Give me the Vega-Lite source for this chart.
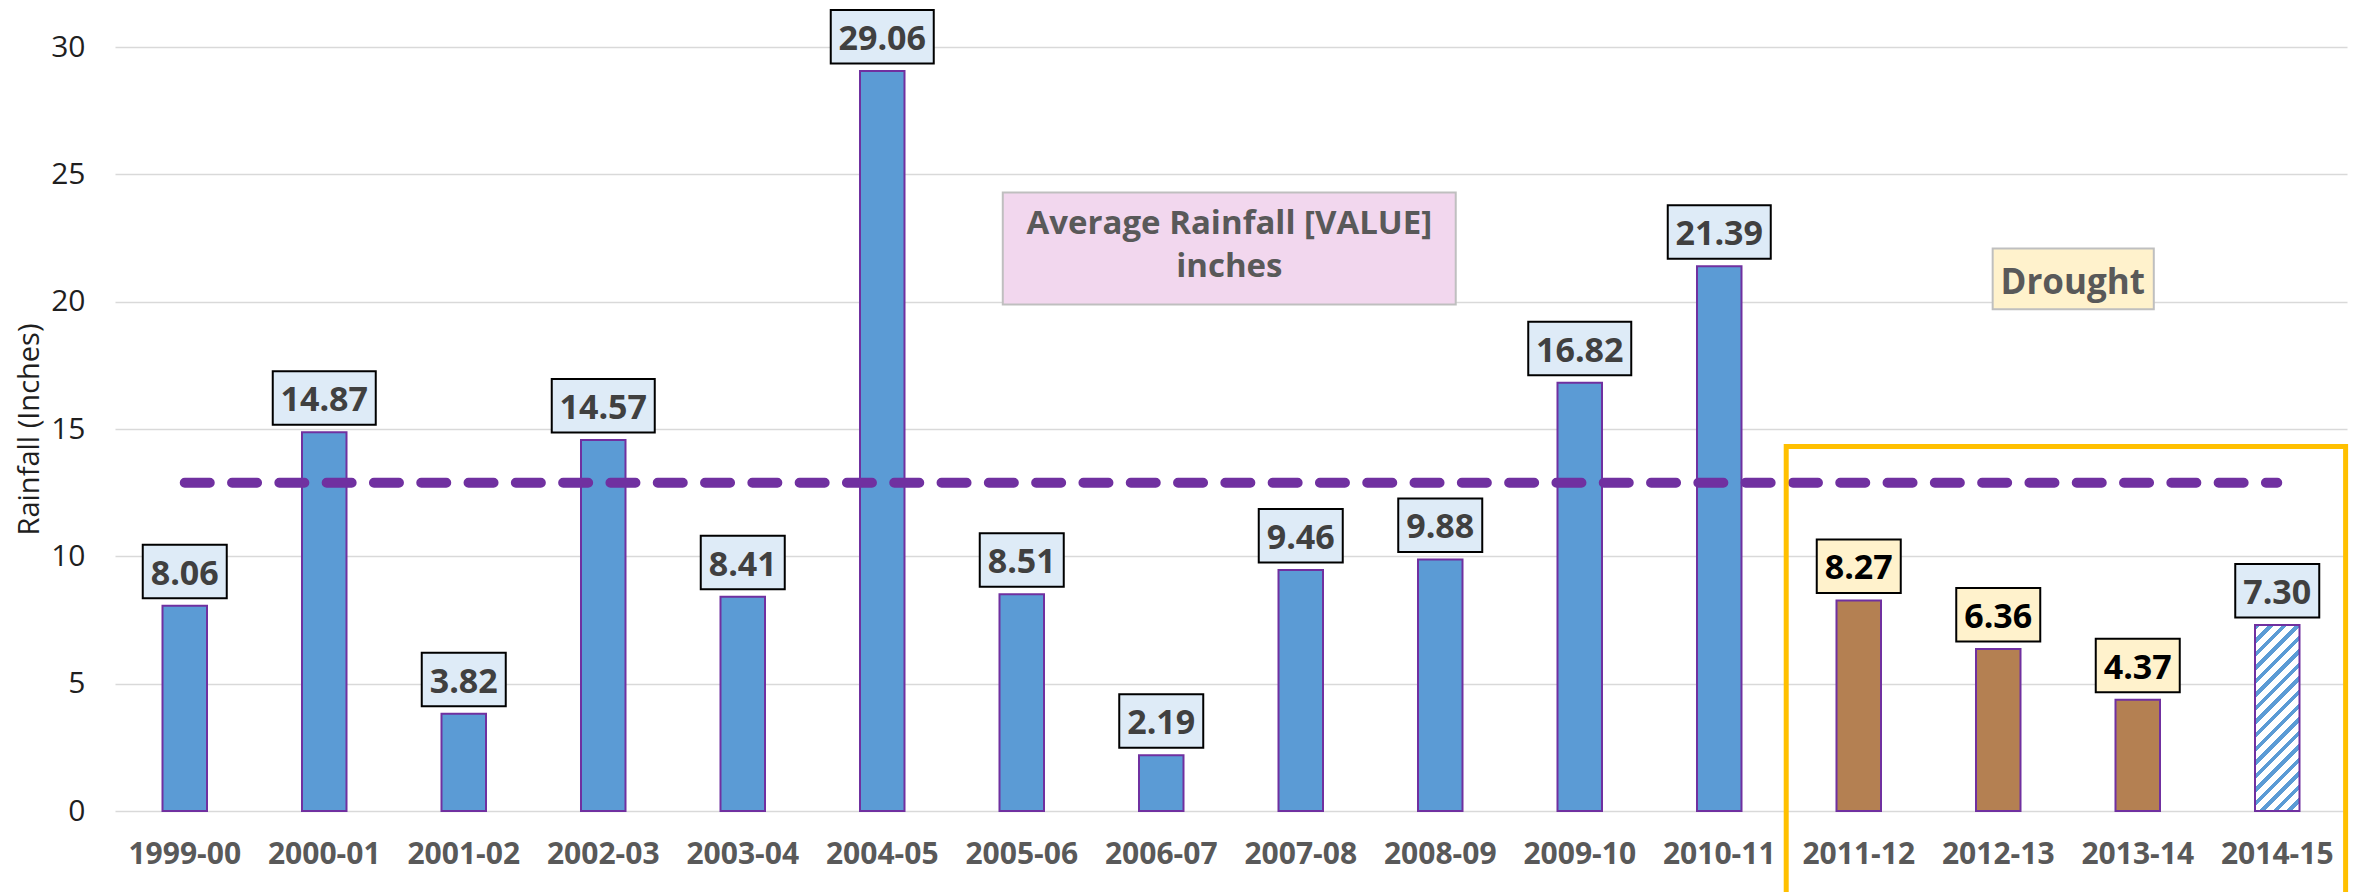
{
  "$schema": "https://vega.github.io/schema/vega-lite/v6.json",
  "width": 2232,
  "height": 764,
  "autosize": {"type": "none"},
  "padding": {"left": 115, "top": 47, "right": 14, "bottom": 81},
  "background": "white",
  "config": {"view": {"stroke": null}, "font": "Open Sans"},
  "datasets": {
    "rain": [
      {"season": "1999-00", "rain": 8.06, "avg": 12.89, "period": "normal"},
      {"season": "2000-01", "rain": 14.87, "avg": 12.89, "period": "normal"},
      {"season": "2001-02", "rain": 3.82, "avg": 12.89, "period": "normal"},
      {"season": "2002-03", "rain": 14.57, "avg": 12.89, "period": "normal"},
      {"season": "2003-04", "rain": 8.41, "avg": 12.89, "period": "normal"},
      {"season": "2004-05", "rain": 29.06, "avg": 12.89, "period": "normal"},
      {"season": "2005-06", "rain": 8.51, "avg": 12.89, "period": "normal"},
      {"season": "2006-07", "rain": 2.19, "avg": 12.89, "period": "normal"},
      {"season": "2007-08", "rain": 9.46, "avg": 12.89, "period": "normal"},
      {"season": "2008-09", "rain": 9.88, "avg": 12.89, "period": "normal"},
      {"season": "2009-10", "rain": 16.82, "avg": 12.89, "period": "normal"},
      {"season": "2010-11", "rain": 21.39, "avg": 12.89, "period": "normal"},
      {"season": "2011-12", "rain": 8.27, "avg": 12.89, "period": "drought"},
      {"season": "2012-13", "rain": 6.36, "avg": 12.89, "period": "drought"},
      {"season": "2013-14", "rain": 4.37, "avg": 12.89, "period": "drought"},
      {"season": "2014-15", "rain": 7.30, "avg": 12.89, "period": "partial"}
    ],
    "notes": [
      {"kind": "avgbox", "x1": 6.364, "x2": 9.611, "y1": 24.29, "y2": 19.89, "tx": 7.988, "ty": 22.65, "label": "Average Rainfall [VALUE]\ninches"},
      {"kind": "droughtbox", "x1": 13.46, "x2": 14.615, "y1": 22.09, "y2": 19.7, "tx": 14.034, "ty": 20.31, "label": "Drought"},
      {"kind": "frame", "x1": 11.98, "x2": 15.99, "y1": 14.31, "y2": -5, "tx": 14, "ty": 0, "label": ""}
    ]
  },
  "resolve": {"scale": {"x": "independent", "y": "independent"}},
  "layer": [
    {
      "data": {"name": "rain"},
      "encoding": {
        "x": {
          "field": "season", "type": "nominal", "sort": null,
          "scale": {"paddingInner": 0.681, "paddingOuter": 0.3405},
          "axis": {
            "title": null, "domain": false, "ticks": false, "grid": false,
            "labelFont": "Open Sans", "labelFontWeight": "bold", "labelFontSize": 30,
            "labelColor": "#595959", "labelBaseline": "alphabetic", "labelPadding": 52,
            "labelAngle": 0
          }
        },
        "y": {
          "field": "rain", "type": "quantitative",
          "scale": {"domain": [0, 30], "nice": false, "zero": true},
          "axis": {
            "title": "Rainfall (Inches)", "values": [0, 5, 10, 15, 20, 25, 30],
            "domain": false, "ticks": false, "tickSize": 0, "grid": true,
            "gridColor": "#D9D9D9", "gridWidth": 1.5,
            "labelFont": "Open Sans", "labelFontSize": 30, "labelColor": "#1f1f1f",
            "labelPadding": 30,
            "titleFont": "Open Sans", "titleFontSize": 29, "titleFontWeight": "normal",
            "titleColor": "#1f1f1f", "titlePadding": 6
          }
        }
      },
      "layer": [
        {
          "transform": [{"filter": "datum.period !== 'partial'"}],
          "mark": {"type": "bar", "stroke": "#7030A0", "strokeWidth": 2},
          "encoding": {
            "fill": {"condition": {"test": "datum.period === 'drought'", "value": "#B48052"}, "value": "#5B9BD5"}
          }
        },
        {
          "transform": [{"filter": "datum.period === 'partial'"}],
          "mark": {
            "type": "bar", "stroke": "#7030A0", "strokeWidth": 2,
            "fill": {
              "gradient": "linear", "x1": 0, "y1": 0, "x2": 0.2806, "y2": 1.1722,
              "stops": [
                {"offset": 0, "color": "#5B9BD5"}, {"offset": 0.0235, "color": "#5B9BD5"}, {"offset": 0.0235, "color": "#FFFFFF"}, {"offset": 0.0588, "color": "#FFFFFF"},
                {"offset": 0.0588, "color": "#5B9BD5"}, {"offset": 0.0824, "color": "#5B9BD5"}, {"offset": 0.0824, "color": "#FFFFFF"}, {"offset": 0.1176, "color": "#FFFFFF"},
                {"offset": 0.1176, "color": "#5B9BD5"}, {"offset": 0.1412, "color": "#5B9BD5"}, {"offset": 0.1412, "color": "#FFFFFF"}, {"offset": 0.1765, "color": "#FFFFFF"},
                {"offset": 0.1765, "color": "#5B9BD5"}, {"offset": 0.2, "color": "#5B9BD5"}, {"offset": 0.2, "color": "#FFFFFF"}, {"offset": 0.2353, "color": "#FFFFFF"},
                {"offset": 0.2353, "color": "#5B9BD5"}, {"offset": 0.2588, "color": "#5B9BD5"}, {"offset": 0.2588, "color": "#FFFFFF"}, {"offset": 0.2941, "color": "#FFFFFF"},
                {"offset": 0.2941, "color": "#5B9BD5"}, {"offset": 0.3176, "color": "#5B9BD5"}, {"offset": 0.3176, "color": "#FFFFFF"}, {"offset": 0.3529, "color": "#FFFFFF"},
                {"offset": 0.3529, "color": "#5B9BD5"}, {"offset": 0.3765, "color": "#5B9BD5"}, {"offset": 0.3765, "color": "#FFFFFF"}, {"offset": 0.4118, "color": "#FFFFFF"},
                {"offset": 0.4118, "color": "#5B9BD5"}, {"offset": 0.4353, "color": "#5B9BD5"}, {"offset": 0.4353, "color": "#FFFFFF"}, {"offset": 0.4706, "color": "#FFFFFF"},
                {"offset": 0.4706, "color": "#5B9BD5"}, {"offset": 0.4941, "color": "#5B9BD5"}, {"offset": 0.4941, "color": "#FFFFFF"}, {"offset": 0.5294, "color": "#FFFFFF"},
                {"offset": 0.5294, "color": "#5B9BD5"}, {"offset": 0.5529, "color": "#5B9BD5"}, {"offset": 0.5529, "color": "#FFFFFF"}, {"offset": 0.5882, "color": "#FFFFFF"},
                {"offset": 0.5882, "color": "#5B9BD5"}, {"offset": 0.6118, "color": "#5B9BD5"}, {"offset": 0.6118, "color": "#FFFFFF"}, {"offset": 0.6471, "color": "#FFFFFF"},
                {"offset": 0.6471, "color": "#5B9BD5"}, {"offset": 0.6706, "color": "#5B9BD5"}, {"offset": 0.6706, "color": "#FFFFFF"}, {"offset": 0.7059, "color": "#FFFFFF"},
                {"offset": 0.7059, "color": "#5B9BD5"}, {"offset": 0.7294, "color": "#5B9BD5"}, {"offset": 0.7294, "color": "#FFFFFF"}, {"offset": 0.7647, "color": "#FFFFFF"},
                {"offset": 0.7647, "color": "#5B9BD5"}, {"offset": 0.7882, "color": "#5B9BD5"}, {"offset": 0.7882, "color": "#FFFFFF"}, {"offset": 0.8235, "color": "#FFFFFF"},
                {"offset": 0.8235, "color": "#5B9BD5"}, {"offset": 0.8471, "color": "#5B9BD5"}, {"offset": 0.8471, "color": "#FFFFFF"}, {"offset": 0.8824, "color": "#FFFFFF"},
                {"offset": 0.8824, "color": "#5B9BD5"}, {"offset": 0.9059, "color": "#5B9BD5"}, {"offset": 0.9059, "color": "#FFFFFF"}, {"offset": 0.9412, "color": "#FFFFFF"},
                {"offset": 0.9412, "color": "#5B9BD5"}, {"offset": 0.9647, "color": "#5B9BD5"}, {"offset": 0.9647, "color": "#FFFFFF"}, {"offset": 1, "color": "#FFFFFF"}
              ]
            }
          },
          "encoding": {}
        },
        {
          "mark": {"type": "line", "color": "#7030A0", "strokeWidth": 10, "strokeCap": "round", "strokeDash": [25, 22.3]},
          "encoding": {"y": {"field": "avg", "type": "quantitative"}}
        },
        {
          "mark": {"type": "bar", "yOffset": -61, "y2Offset": -7.5, "stroke": "#000000", "strokeWidth": 2},
          "encoding": {
            "y": {"field": "rain", "type": "quantitative"},
            "y2": {"field": "rain"},
            "size": {"condition": {"test": "datum.rain >= 10", "value": 103}, "value": 84},
            "fill": {"condition": {"test": "datum.period === 'drought'", "value": "#FFF2CC"}, "value": "#DEEBF7"}
          }
        },
        {
          "mark": {"type": "text", "font": "Open Sans", "fontWeight": "bold", "fontSize": 34, "baseline": "alphabetic", "align": "center", "dy": -21},
          "encoding": {
            "text": {"field": "rain", "type": "quantitative", "format": ".2f"},
            "color": {"condition": {"test": "datum.period === 'drought'", "value": "#000000"}, "value": "#404040"}
          }
        }
      ]
    },
    {
      "data": {"name": "notes"},
      "encoding": {
        "x": {"field": "x1", "type": "quantitative", "scale": {"domain": [0, 16], "nice": false, "zero": false}, "axis": null},
        "x2": {"field": "x2"},
        "y": {"field": "y1", "type": "quantitative", "scale": {"domain": [0, 30], "nice": false}, "axis": null},
        "y2": {"field": "y2"}
      },
      "layer": [
        {
          "transform": [{"filter": "datum.kind === 'avgbox'"}],
          "mark": {"type": "rect", "fill": "#F2D7EE", "stroke": "#BFBFBF", "strokeWidth": 2}
        },
        {
          "transform": [{"filter": "datum.kind === 'droughtbox'"}],
          "mark": {"type": "rect", "fill": "#FFF2CC", "stroke": "#BFBFBF", "strokeWidth": 2}
        },
        {
          "transform": [{"filter": "datum.kind === 'frame'"}],
          "mark": {"type": "rect", "fill": null, "filled": false, "stroke": "#FFC000", "strokeWidth": 5}
        },
        {
          "transform": [{"filter": "datum.kind === 'avgbox'"}],
          "mark": {"type": "text", "font": "Open Sans", "fontWeight": "bold", "fontSize": 33, "color": "#595959", "align": "center", "baseline": "alphabetic", "lineBreak": "\n", "lineHeight": 43},
          "encoding": {
            "x": {"field": "tx", "type": "quantitative"},
            "x2": null,
            "y": {"field": "ty", "type": "quantitative"},
            "y2": null,
            "text": {"field": "label"}
          }
        },
        {
          "transform": [{"filter": "datum.kind === 'droughtbox'"}],
          "mark": {"type": "text", "font": "Open Sans", "fontWeight": "bold", "fontSize": 35, "color": "#595959", "align": "center", "baseline": "alphabetic"},
          "encoding": {
            "x": {"field": "tx", "type": "quantitative"},
            "x2": null,
            "y": {"field": "ty", "type": "quantitative"},
            "y2": null,
            "text": {"field": "label"}
          }
        }
      ]
    }
  ]
}
